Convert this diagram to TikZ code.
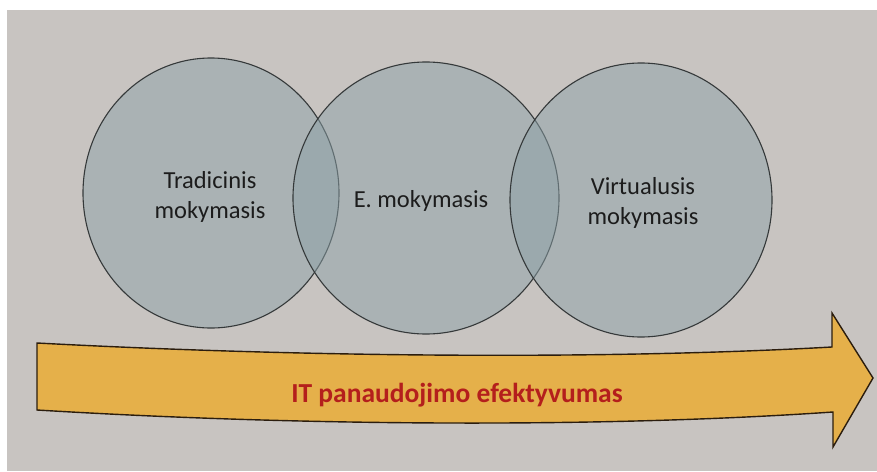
\documentclass[tikz,border=0pt]{standalone}
\usepackage{fontspec}
\setmainfont{Carlito}
\definecolor{bgpaper}{HTML}{C8C4C1}
\definecolor{circfill}{HTML}{8DA2A8}
\definecolor{circline}{HTML}{35393A}
\definecolor{arrowfill}{HTML}{E5B04A}
\definecolor{arrowline}{HTML}{2B1D0E}
\definecolor{itred}{HTML}{B41F1C}
\definecolor{txtdark}{HTML}{1C1C1C}
\tikzset{
  venn/.style={fill=circfill, fill opacity=0.5, draw=circline, draw opacity=1, line width=1.1pt},
  bigarrow/.style={fill=arrowfill, draw=arrowline, line width=1.4pt, line join=miter},
  circlabel/.style={align=center, text=txtdark, font=\fontsize{24.5}{30}\selectfont, inner sep=0pt},
  arrowlabel/.style={text=itred, font=\bfseries\fontsize{27.5}{30}\selectfont, inner sep=0pt}
}
\begin{document}
\begin{tikzpicture}[x=1pt,y=-1pt]
\useasboundingbox (0,0) rectangle (877,471);
\fill[white] (0,0) rectangle (877,471);
\fill[bgpaper] (7,10) rectangle (877,471);
% circles
\draw[venn] (211,193) ellipse [x radius=128, y radius=135];
\draw[venn] (426,198) ellipse [x radius=133, y radius=136];
\draw[venn] (641,200) ellipse [x radius=131, y radius=137];
% labels
\node[circlabel] (trad) at (210,197) {Tradicinis\\mokymasis};
\node[circlabel] (emok) at (421,201) {E. mokymasis};
\node[circlabel] (virt) at (643,203) {Virtualusis\\mokymasis};
% arrow
\draw[bigarrow] (37,343) .. controls (300,357) and (600,360) .. (832,347)
  -- (832,313) -- (873,378) -- (833,447) -- (833,412)
  .. controls (600,428) and (300,426) .. (37,410) -- cycle;
\node[arrowlabel] (itlab) at (457,395) {IT panaudojimo efektyvumas};
\end{tikzpicture}
\end{document}
